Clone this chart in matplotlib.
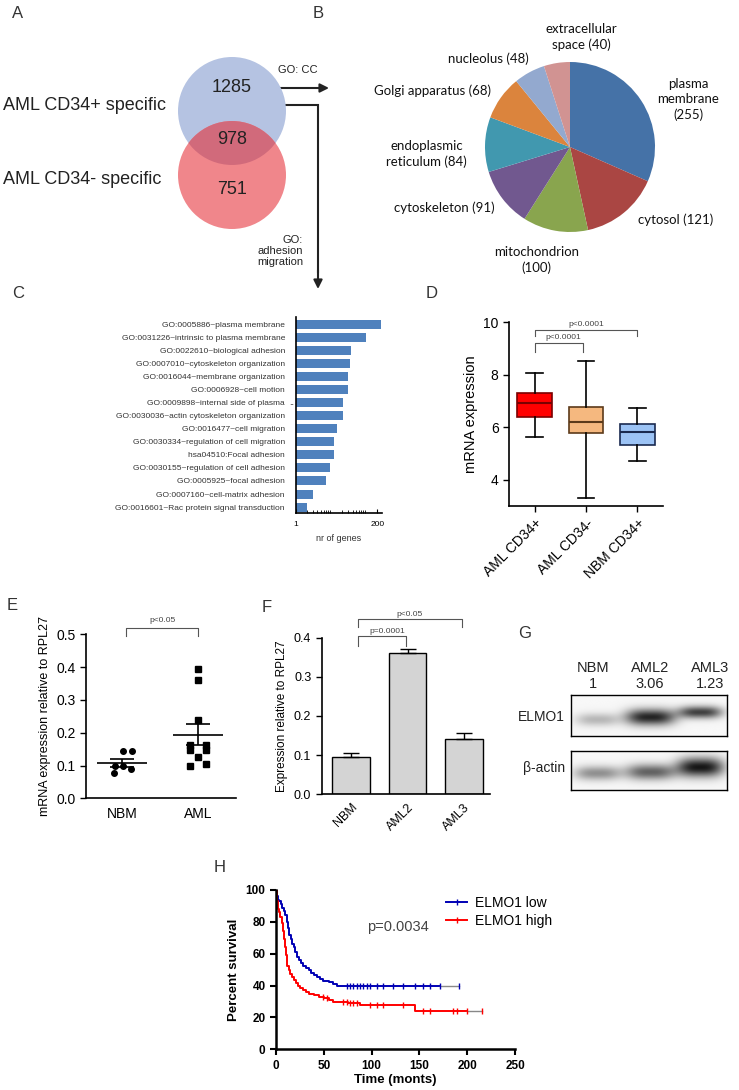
import numpy as np
import matplotlib
matplotlib.use('Agg')
import matplotlib.pyplot as plt
from matplotlib.patches import Circle
from matplotlib.lines import Line2D
from matplotlib.ticker import FixedLocator, FixedFormatter, LogLocator, NullFormatter

plt.rcParams['font.family'] = ['Liberation Sans', 'DejaVu Sans']

W, H = 739, 1090

# ---- A: venn counts
venn_sets = ['AML CD34+ specific', 'AML CD34- specific']
venn_counts = [1285, 978, 751]

# ---- B: GO cellular component
cc_terms = ['plasma\nmembrane', 'cytosol', 'mitochondrion', 'cytoskeleton',
            'endoplasmic\nreticulum', 'Golgi apparatus', 'nucleolus', 'extracellular\nspace']
cc_counts = [255, 121, 100, 91, 84, 68, 48, 40]
cc_colors = ['#4572a7', '#aa4643', '#89a54e', '#71588f', '#4198af', '#db843d', '#93a9cf', '#d19392']

# ---- C: adhesion / migration terms
go_terms = ['GO:0005886~plasma membrane',
            'GO:0031226~intrinsic to plasma membrane',
            'GO:0022610~biological adhesion',
            'GO:0007010~cytoskeleton organization',
            'GO:0016044~membrane organization',
            'GO:0006928~cell motion',
            'GO:0009898~internal side of plasma',
            'GO:0030036~actin cytoskeleton organization',
            'GO:0016477~cell migration',
            'GO:0030334~regulation of cell migration',
            'hsa04510:Focal adhesion',
            'GO:0030155~regulation of cell adhesion',
            'GO:0005925~focal adhesion',
            'GO:0007160~cell-matrix adhesion',
            'GO:0016601~Rac protein signal transduction']
go_genes = [255, 98, 37, 33, 29, 29, 22, 22, 14, 12, 12, 9, 7, 3, 2]

# ---- D: box plot
box_groups = ['AML CD34+', 'AML CD34-', 'NBM CD34+']
box_whislo = [5.64, 3.31, 4.72]
box_q1 = [6.40, 5.77, 5.31]
box_med = [6.90, 6.21, 5.82]
box_q3 = [7.31, 6.75, 6.12]
box_whishi = [8.06, 8.51, 6.74]

# ---- E: qPCR primary samples
qpcr_groups = ['NBM', 'AML']
nbm_qpcr = [0.144, 0.144, 0.099, 0.099, 0.088, 0.076]
aml_qpcr = [0.394, 0.360, 0.239, 0.162, 0.162, 0.147, 0.147, 0.127, 0.099, 0.105]

# ---- F: cell lines
cell_lines = ['NBM', 'AML2', 'AML3']
line_expr = [0.0945, 0.360, 0.142]
line_err = [0.012, 0.010, 0.014]

# ---- G: western blot
blot_lanes = ['NBM', 'AML2', 'AML3']
blot_ratio = ['1', '3.06', '1.23']
elmo1_band = [0.28, 0.92, 0.80]
actin_band = [0.45, 0.65, 0.98]

# ---- H: survival
low_t = [0, 1, 2, 3.5, 5, 6.5, 8, 9.5, 11, 12.5, 14, 15.5, 17, 18.5, 20, 22, 24, 26,
         28.5, 31, 34, 37, 40, 43, 46, 49, 55, 60, 64, 171.5]
low_s = [100, 96, 94, 93, 91, 89, 87, 84, 80, 76, 72, 69, 66, 64, 61, 58, 56, 54,
         52.5, 51, 49.5, 48, 46.5, 45.5, 44, 42.7, 42, 41, 39.7, 39.7]
low_tail = 191
low_cens = [73.9, 77.4, 80.9, 84.4, 87.9, 91.4, 94.8, 98.3, 105.3, 112.2, 122.7,
            133.2, 145.4, 154.1, 161.1, 171.5, 191]
high_t = [0, 1, 2, 3, 4.5, 6, 7, 8, 9, 10, 11, 12, 13.5, 15, 17, 19, 21, 23, 25.5,
          28, 31, 35, 40, 45, 50, 55, 60, 66, 75, 88, 145.5, 199.4]
high_s = [100, 93, 88, 86, 83, 79, 74, 69, 64, 59, 55, 52, 50, 47.5, 45.5, 43.5, 41.5,
          40, 38.5, 37.2, 36, 35, 34, 33, 32, 31, 30, 29.5, 29, 27.9, 24.3, 24.3]
high_tail = 216
high_cens = [49.5, 53, 70.4, 73.9, 77.4, 80.9, 84.4, 98.3, 105.3, 112.2, 133.2,
             154.1, 161.1, 185.5, 189, 199.4, 216]


def px_box(l, t, r, b):
    return [l / W, 1 - b / H, (r - l) / W, (b - t) / H]


def clean(ax, lw=1.2):
    for s in ['top', 'right']:
        ax.spines[s].set_visible(False)
    for s in ['left', 'bottom']:
        ax.spines[s].set_linewidth(lw)


def bracket(ax, x0, x1, y, drop, label, ty, tx=None, fs=6):
    ax.plot([x0, x0, x1, x1], [y - drop, y, y, y - drop], color='#555', lw=0.8, clip_on=False)
    if tx is None:
        tx = (x0 + x1) / 2
    ax.text(tx, ty, label, ha='center', va='bottom', fontsize=fs, color='#444', clip_on=False)


fig = plt.figure(figsize=(W / 100, H / 100), dpi=100)

# overlay in pixel coordinates for letters, arrows, free text
ov = fig.add_axes([0, 0, 1, 1])
ov.set_xlim(0, W)
ov.set_ylim(H, 0)
ov.axis('off')
for letter, (lx, ly) in zip('ABCDEFGH', [(18, 13), (318, 13), (18, 294), (432, 294),
                                          (12, 606), (267, 607), (525, 633), (220, 868)]):
    ov.text(lx, ly, letter, fontsize=12, ha='center', va='center', color='#333')

# ---------- A
ava = fig.add_axes(px_box(178, 57, 286, 229))
ava.set_xlim(-1, 1)
ava.set_ylim(-1.593, 1.593)
ava.axis('off')
blue = Circle((0, 0.593), 1, facecolor='#b5c3e2', edgecolor='none')
red = Circle((0, -0.593), 1, facecolor='#f0868b', edgecolor='none')
ava.add_patch(blue)
ava.add_patch(red)
both = Circle((0, 0.593), 1, facecolor='#d16a7b', edgecolor='none')
ava.add_patch(both)
both.set_clip_path(red)
for cnt, yy in zip(venn_counts, [1.02, 0.06, -0.87]):
    ava.text(0, yy, str(cnt), ha='center', va='center', fontsize=13, color='#222')
ov.text(3, 105, venn_sets[0], fontsize=13, ha='left', va='center', color='#222')
ov.text(3, 180, venn_sets[1], fontsize=13, ha='left', va='center', color='#222')

arr = dict(arrowstyle='-|>', lw=1.5, color='#222', mutation_scale=13, shrinkA=0, shrinkB=0)
ov.annotate('', xy=(329, 88), xytext=(268, 88), arrowprops=arr)
ov.plot([268, 318, 318], [105, 105, 272], color='#222', lw=1.5, solid_joinstyle='miter')
ov.annotate('', xy=(318, 289), xytext=(318, 270), arrowprops=arr)
ov.text(298, 70, 'GO: CC', fontsize=8, ha='center', va='center', color='#222')
ov.text(303, 251, 'GO:\nadhesion\nmigration', fontsize=8, ha='right', va='center',
        color='#222', linespacing=1.15)

# ---------- B
axb = fig.add_axes(px_box(485, 62, 655, 232))
axb.pie(cc_counts, colors=cc_colors, startangle=90, counterclock=False, radius=1,
        wedgeprops=dict(linewidth=0))
axb.set_xlim(-1, 1)
axb.set_ylim(-1, 1)
label_xy = [(1.39, 0.56), (1.24, -0.86), (-0.39, -1.33), (-1.48, -0.71),
            (-1.69, -0.08), (-1.62, 0.66), (-0.96, 1.04), (0.13, 1.29)]
for term, cnt, (lx, ly) in zip(cc_terms, cc_counts, label_xy):
    if term in ('plasma\nmembrane', 'mitochondrion'):
        lbl = f'{term}\n({cnt})'
    else:
        lbl = f'{term} ({cnt})'
    axb.text(lx, ly, lbl, ha='center', va='center', fontsize=9.5, color='#111',
             family=['Lato', 'DejaVu Sans'], linespacing=1.3, clip_on=False)

# ---------- C
axc = fig.add_axes(px_box(296, 317, 382, 513))
yy = np.arange(len(go_terms))
axc.barh(yy, go_genes, height=0.69, color='#4f81bd')
axc.set_xscale('log')
axc.set_xlim(1, 270)
axc.set_ylim(len(go_terms) - 0.55, -0.55)
axc.set_yticks(yy)
axc.set_yticklabels(go_terms, fontsize=6, color='#333')
axc.tick_params(axis='y', length=0, pad=8)
axc.xaxis.set_major_locator(FixedLocator([1, 200]))
axc.xaxis.set_major_formatter(FixedFormatter(['1', '200']))
axc.xaxis.set_minor_locator(LogLocator(base=10, subs=np.arange(2, 10)))
axc.xaxis.set_minor_formatter(NullFormatter())
axc.tick_params(axis='x', which='major', direction='in', length=3, labelsize=6, pad=6)
axc.tick_params(axis='x', which='minor', direction='in', length=2)
clean(axc)
axc.text(-0.025, 6, '..', transform=axc.get_yaxis_transform(), ha='right', va='center',
         fontsize=6.5, color='#333')
axc.set_xlabel('nr of genes', fontsize=6.5, color='#333', labelpad=4)

# ---------- D
axd = fig.add_axes(px_box(509, 322, 663, 506))
stats = [dict(med=m, q1=a, q3=b, whislo=lo, whishi=hi, fliers=[])
         for m, a, b, lo, hi in zip(box_med, box_q1, box_q3, box_whislo, box_whishi)]
bp = axd.bxp(stats, positions=range(3), widths=0.67, capwidths=0.33, patch_artist=True,
             showfliers=False,
             whiskerprops=dict(color='k', lw=1.2), capprops=dict(color='k', lw=1.2))
box_face = ['#ff0000', '#f5b87f', '#9cc3f5']
box_edge = ['#7a0000', '#5c3a1a', '#1a2a50']
for patch, med, fc, ec in zip(bp['boxes'], bp['medians'], box_face, box_edge):
    patch.set_facecolor(fc)
    patch.set_edgecolor(ec)
    patch.set_linewidth(1.2)
    med.set_color(ec)
    med.set_linewidth(1.5)
axd.set_xlim(-0.5, 2.5)
axd.set_ylim(3, 10)
axd.set_yticks([4, 6, 8, 10])
axd.set_xticks(range(3))
axd.set_xticklabels(box_groups, rotation=45, ha='right', rotation_mode='anchor')
axd.tick_params(labelsize=10, length=4, width=1)
axd.set_ylabel('mRNA expression', fontsize=10.5)
clean(axd)
bracket(axd, 0, 0.94, 9.19, 0.34, 'p<0.0001', 9.26, tx=0.55)
bracket(axd, 0, 2, 9.68, 0.22, 'p<0.0001', 9.76, tx=1.0)

# ---------- E
axe = fig.add_axes(px_box(86, 634.3, 236, 798.3))
nbm_dx = [0.01, 0.13, -0.09, 0.02, 0.12, -0.1]
aml_dx = [0, 0, 0, -0.1, 0.1, -0.1, 0.1, 0, -0.1, 0.1]
axe.plot(np.array(nbm_dx), nbm_qpcr, 'o', color='k', ms=4, ls='none')
axe.plot(1 + np.array(aml_dx), aml_qpcr, 's', color='k', ms=3.8, ls='none')
for xpos, vals in zip([0, 1], [nbm_qpcr, aml_qpcr]):
    v = np.array(vals)
    m = v.mean()
    se = v.std(ddof=1) / np.sqrt(len(v))
    axe.hlines(m, xpos - 0.33, xpos + 0.33, color='k', lw=1.2)
    axe.vlines(xpos, m - se, m + se, color='k', lw=1.2)
    axe.hlines([m - se, m + se], xpos - 0.16, xpos + 0.16, color='k', lw=1.2)
axe.set_xlim(-0.47, 1.5)
axe.set_ylim(0, 0.5)
axe.set_yticks(np.arange(0, 0.51, 0.1))
axe.set_yticklabels([f'{t:.1f}' for t in np.arange(0, 0.51, 0.1)])
axe.set_xticks([0, 1])
axe.set_xticklabels(qpcr_groups)
axe.tick_params(axis='y', labelsize=10, length=4, width=1)
axe.tick_params(axis='x', labelsize=10, length=0, pad=6)
axe.set_ylabel('mRNA expression relative to RPL27', fontsize=9)
clean(axe)
bracket(axe, 0.05, 1.0, 0.518, 0.022, 'p<0.05', 0.530, tx=0.54)

# ---------- F
axf = fig.add_axes(px_box(321.7, 637.7, 490, 794.3))
xf = np.arange(len(cell_lines))
axf.bar(xf, line_expr, width=0.67, color='#d4d4d4', edgecolor='k', lw=1)
axf.errorbar(xf, line_expr, yerr=[np.zeros(3), line_err], fmt='none', ecolor='k',
             elinewidth=1, capsize=6, capthick=1)
axf.set_xlim(-0.52, 2.46)
axf.set_ylim(0, 0.4)
axf.set_yticks(np.arange(0, 0.41, 0.1))
axf.set_yticklabels([f'{t:.1f}' for t in np.arange(0, 0.41, 0.1)])
axf.set_xticks(xf)
axf.set_xticklabels(cell_lines, rotation=45, ha='right', rotation_mode='anchor')
axf.tick_params(axis='y', labelsize=9, length=4, width=1)
axf.tick_params(axis='x', labelsize=9, length=0, pad=5)
axf.set_ylabel('Expression relative to RPL27', fontsize=8.5)
clean(axf)
bracket(axf, 0.13, 0.98, 0.404, 0.025, 'p=0.0001', 0.407, tx=0.65)
bracket(axf, 0.13, 1.97, 0.447, 0.019, 'p<0.05', 0.450, tx=1.04)

# ---------- G
lane_x = [0.17, 0.51, 0.83]
gx = np.linspace(0, 1, 320)
gy = np.linspace(0, 1, 90)
GX, GY = np.meshgrid(gx, gy)


def blot(ax, levels, band_y, band_w, band_h):
    img = np.full(GX.shape, 0.97)
    for cx, lv, cy, bw, bh in zip(lane_x, levels, band_y, band_w, band_h):
        d = np.exp(-(np.abs((GX - cx) / bw) ** 3 + ((GY - cy) / bh) ** 2))
        img -= 0.9 * lv * d
    ax.imshow(np.clip(img, 0, 1), cmap='gray', vmin=0, vmax=1, extent=(0, 1, 1, 0),
              aspect='auto', interpolation='bilinear')
    ax.set_xticks([])
    ax.set_yticks([])
    for s in ax.spines.values():
        s.set_linewidth(1)


axg1 = fig.add_axes(px_box(570.7, 695, 726.7, 736))
blot(axg1, elmo1_band, [0.6, 0.54, 0.42], [0.14, 0.16, 0.14], [0.16, 0.2, 0.15])
axg2 = fig.add_axes(px_box(570.7, 750.7, 726.7, 790))
blot(axg2, actin_band, [0.58, 0.55, 0.43], [0.15, 0.16, 0.15], [0.18, 0.2, 0.24])
for lx, lane, ratio in zip([593, 650, 710], blot_lanes, blot_ratio):
    ov.text(lx, 668, lane, fontsize=10.5, ha='center', va='center', color='#222')
    ov.text(lx, 684, ratio, fontsize=10.5, ha='center', va='center', color='#222')
ov.text(565, 717, 'ELMO1', fontsize=10, ha='right', va='center', color='#222')
ov.text(565, 768, 'β-actin', fontsize=10, ha='right', va='center', color='#222')

# ---------- H
axh = fig.add_axes(px_box(276, 890, 515, 1049.3))


def surv_at(times, t, s):
    idx = np.searchsorted(t, times, side='right') - 1
    return np.array(s)[idx]


for t, s, tail, cens, col in [(low_t, low_s, low_tail, low_cens, '#0000b4'),
                              (high_t, high_s, high_tail, high_cens, '#ff0000')]:
    axh.step(t, s, where='post', color=col, lw=1.4)
    axh.plot([t[-1], tail], [s[-1], s[-1]], color='#888', lw=1)
    ct = np.array(cens)
    axh.plot(ct, surv_at(ct, t, s), '|', color=col, ms=4, mew=1)
axh.set_xlim(0, 250)
axh.set_ylim(0, 100)
axh.set_xticks([0, 50, 100, 150, 200, 250])
axh.set_yticks([0, 20, 40, 60, 80, 100])
axh.tick_params(labelsize=8.5, length=4, width=1.5)
for lab in axh.get_xticklabels() + axh.get_yticklabels():
    lab.set_fontweight('bold')
axh.set_xlabel('Time (monts)', fontsize=9.5, fontweight='bold', labelpad=2)
axh.set_ylabel('Percent survival', fontsize=9.5, fontweight='bold')
clean(axh, lw=1.8)
handles = [Line2D([], [], color='#0000b4', lw=1.4, marker='|', ms=4),
           Line2D([], [], color='#ff0000', lw=1.4, marker='|', ms=4)]
axh.legend(handles, ['ELMO1 low', 'ELMO1 high'], frameon=False, fontsize=10,
           loc='upper left', bbox_to_anchor=(0.66, 1.04), handlelength=1.5,
           handletextpad=0.6, labelspacing=0.25, markerfirst=True)
axh.text(0.51, 0.77, 'p=0.0034', transform=axh.transAxes, fontsize=10.5, color='#444',
         ha='center', va='center')

fig.savefig('out.png', dpi=100)
